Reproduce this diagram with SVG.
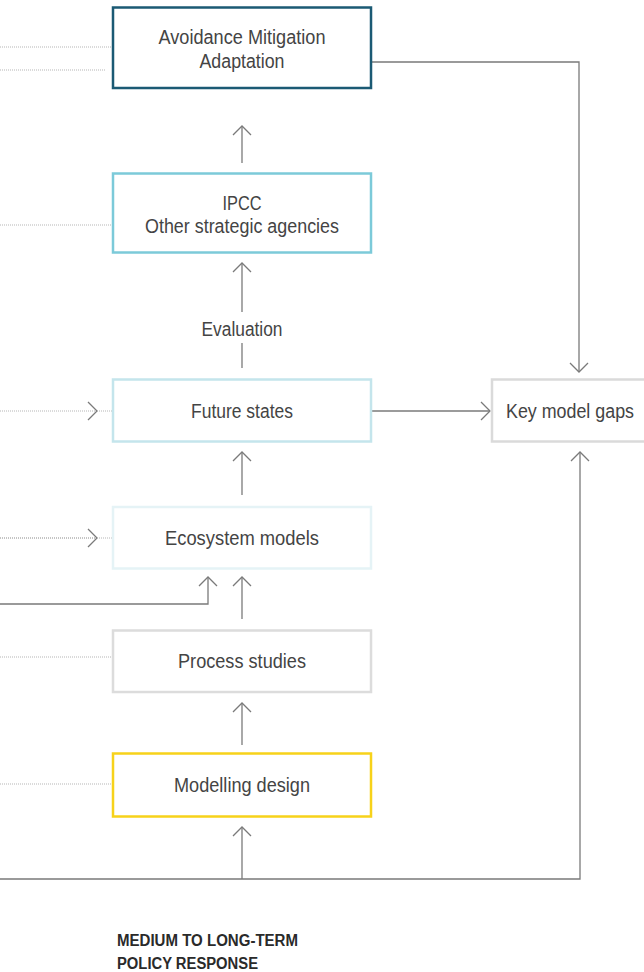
<svg xmlns="http://www.w3.org/2000/svg" width="644" height="972" viewBox="0 0 644 972">
<defs>
<marker id="ah" markerUnits="userSpaceOnUse" markerWidth="24" markerHeight="24" viewBox="-12 -12 24 24" refX="0" refY="0" orient="auto">
<path d="M-9,-9 L0,0 L-9,9" fill="none" stroke="#7a7a7a" stroke-width="1.3"/>
</marker>
</defs>
<style>
.box{fill:#fff;stroke-width:2.5}
.t{font-family:"Liberation Sans",Arial,sans-serif;font-size:20px;fill:#444;text-anchor:middle}
.b{font-family:"Liberation Sans",Arial,sans-serif;font-size:16px;font-weight:bold;fill:#2a2a2a}
.c{fill:none;stroke:#7a7a7a;stroke-width:1.3}
.d{fill:none;stroke:#b5b5b5;stroke-width:1;stroke-dasharray:1 1}
</style>
<rect width="644" height="972" fill="#fff"/>
<g id="connectors">
<line class="d" x1="0" y1="47" x2="113" y2="47"/>
<line class="d" x1="0" y1="70" x2="106" y2="70"/>
<line class="d" x1="0" y1="225" x2="113" y2="225"/>
<line class="d" x1="0" y1="411" x2="97" y2="411" marker-end="url(#ah)"/>
<line class="d" x1="97" y1="411" x2="113" y2="411"/>
<line class="d" x1="0" y1="538" x2="97" y2="538" style="stroke:#8a8a8a" marker-end="url(#ah)"/>
<line class="d" x1="97" y1="538" x2="113" y2="538"/>
<line class="d" x1="0" y1="657" x2="113" y2="657"/>
<line class="d" x1="0" y1="784" x2="113" y2="784"/>
<line class="c" x1="242" y1="163" x2="242" y2="126" marker-end="url(#ah)"/>
<line class="c" x1="242" y1="368" x2="242" y2="343"/>
<line class="c" x1="242" y1="312" x2="242" y2="263" marker-end="url(#ah)"/>
<line class="c" x1="242" y1="495" x2="242" y2="452" marker-end="url(#ah)"/>
<line class="c" x1="242" y1="619" x2="242" y2="577" marker-end="url(#ah)"/>
<polyline class="c" points="0,604 208,604 208,577" marker-end="url(#ah)"/>
<line class="c" x1="242" y1="745" x2="242" y2="703" marker-end="url(#ah)"/>
<polyline class="c" points="0,879 580,879 580,452" marker-end="url(#ah)"/>
<line class="c" x1="242" y1="879" x2="242" y2="827" marker-end="url(#ah)"/>
<polyline class="c" points="371,62 579,62 579,372" marker-end="url(#ah)"/>
<line class="c" x1="371" y1="411" x2="490" y2="411" marker-end="url(#ah)"/>
</g>
<g id="avoidance">
<rect class="box" x="113" y="7.5" width="258" height="80.5" style="stroke:#1b5a74"/>
<text class="t" x="242" y="44" textLength="167" lengthAdjust="spacingAndGlyphs">Avoidance Mitigation</text>
<text class="t" x="242" y="68" textLength="85" lengthAdjust="spacingAndGlyphs">Adaptation</text>
</g>
<g id="ipcc">
<rect class="box" x="113" y="173.5" width="258" height="79" style="stroke:#7ccad9"/>
<text class="t" x="242" y="210" textLength="39" lengthAdjust="spacingAndGlyphs">IPCC</text>
<text class="t" x="242" y="233" textLength="194" lengthAdjust="spacingAndGlyphs">Other strategic agencies</text>
</g>
<g id="evaluation">
<text class="t" x="242" y="336" textLength="81" lengthAdjust="spacingAndGlyphs">Evaluation</text>
</g>
<g id="future">
<rect class="box" x="113" y="379.5" width="258" height="62" style="stroke:#c4e5ec"/>
<text class="t" x="242" y="418" textLength="102" lengthAdjust="spacingAndGlyphs">Future states</text>
</g>
<g id="gaps">
<rect class="box" x="492" y="379.5" width="160" height="62" style="stroke:#dadada"/>
<text class="t" x="570" y="418" textLength="128" lengthAdjust="spacingAndGlyphs">Key model gaps</text>
</g>
<g id="ecosystem">
<rect class="box" x="113" y="507" width="258" height="61.5" style="stroke:#e5f3f6"/>
<text class="t" x="242" y="545" textLength="154" lengthAdjust="spacingAndGlyphs">Ecosystem models</text>
</g>
<g id="process">
<rect class="box" x="113" y="630.5" width="258" height="61.5" style="stroke:#dcdcdc"/>
<text class="t" x="242" y="668" textLength="128" lengthAdjust="spacingAndGlyphs">Process studies</text>
</g>
<g id="modelling">
<rect class="box" x="113" y="753.5" width="258" height="63" style="stroke:#f7d21a"/>
<text class="t" x="242" y="792" textLength="136" lengthAdjust="spacingAndGlyphs">Modelling design</text>
</g>
<g id="caption">
<text class="b" x="117" y="946" textLength="181" lengthAdjust="spacingAndGlyphs">MEDIUM TO LONG-TERM</text>
<text class="b" x="117" y="969" textLength="141" lengthAdjust="spacingAndGlyphs">POLICY RESPONSE</text>
</g>
</svg>
